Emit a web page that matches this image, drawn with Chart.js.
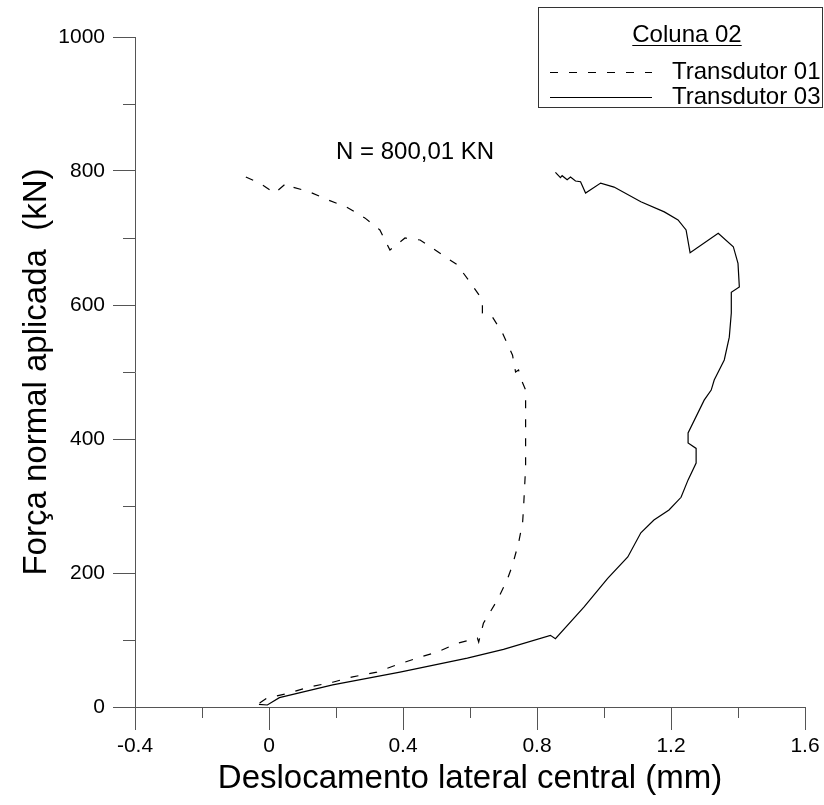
<!DOCTYPE html>
<html>
<head>
<meta charset="utf-8">
<script src="https://cdn.jsdelivr.net/npm/chart.js@4.4.1/dist/chart.umd.min.js"></script>
<style>
  html, body { margin: 0; padding: 0; background: #fff; }
  #wrap { width: 824px; height: 805px; }
</style>
</head>
<body>
<div id="wrap"><canvas id="coluna" width="824" height="805"></canvas></div>
<script>
const t01X = [-0.028, -0.007, 0.061, 0.121, 0.19, 0.25, 0.322, 0.382, 0.442, 0.502, 0.562, 0.622, 0.626, 0.64,
  0.682, 0.711, 0.727, 0.745, 0.757, 0.76, 0.766, 0.766, 0.766, 0.752, 0.745, 0.736, 0.727, 0.697, 0.667,
  0.637, 0.637, 0.631, 0.60, 0.562, 0.505, 0.451, 0.406, 0.361, 0.331, 0.286, 0.232, 0.175, 0.12, 0.07,
  0.052, 0.017, -0.028, -0.097];
const t01Y = [6, 13, 21, 30, 37, 45, 52, 63, 73, 82, 95, 103, 97, 125,
  160, 190, 212, 245, 275, 299, 358, 438, 473, 490, 503, 500, 525, 558, 582,
  588, 600, 612, 634, 660, 679, 697, 700, 682, 712, 730, 746, 757, 769, 776,
  782, 767, 782, 797];

// Transdutor 03 (solid)
const t03X = [-0.03, -0.005, 0.031, 0.19, 0.391, 0.592, 0.70, 0.84, 0.855, 0.94, 1.011, 1.071, 1.11, 1.149,
  1.194, 1.23, 1.251, 1.275, 1.275, 1.251, 1.251, 1.299, 1.32, 1.329, 1.359, 1.374, 1.38, 1.38, 1.404,
  1.40, 1.386, 1.341, 1.257, 1.245, 1.221, 1.18, 1.11, 1.03, 0.99, 0.945, 0.93, 0.915, 0.90, 0.89, 0.875,
  0.87, 0.855];
const t03Y = [4, 3, 14, 33, 52, 73, 86, 107, 102, 149, 192, 224, 260, 279,
  294, 313, 339, 364, 386, 394, 409, 458, 473, 488, 518, 552, 588, 619, 627,
  662, 687, 707, 678, 712, 727, 739, 754, 776, 782, 767, 784, 785, 791, 787, 793,
  790, 798];

const seriesNames = ['Transdutor 01', 'Transdutor 03'];
const legendTitle = 'Coluna 02';
const noteText = 'N = 800,01 KN';
const noteAt = [0.436, 828];

const xTicks = [-0.4, 0, 0.4, 0.8, 1.2, 1.6];
const xMinor = [-0.2, 0.2, 0.6, 1.0, 1.4];
const yTicks = [0, 200, 400, 600, 800, 1000];
const yMinor = [100, 300, 500, 700, 900];

const axisColor = '#555';
const fontFamily = "'Liberation Sans', Arial, sans-serif";

const toPoints = (xs, ys) => xs.map((x, i) => ({ x: x, y: ys[i] }));

// short ticks between the labelled ones
const minorTicks = {
  id: 'minorTicks',
  afterDraw(chart) {
    const { ctx, scales: { x, y } } = chart;
    ctx.save();
    ctx.strokeStyle = axisColor;
    ctx.lineWidth = 1;
    ctx.beginPath();
    xMinor.forEach(v => {
      const px = Math.round(x.getPixelForValue(v)) + 0.5;
      ctx.moveTo(px, x.top);
      ctx.lineTo(px, x.top + 11);
    });
    yMinor.forEach(v => {
      const py = Math.round(y.getPixelForValue(v)) + 0.5;
      ctx.moveTo(y.right, py);
      ctx.lineTo(y.right - 12, py);
    });
    ctx.stroke();
    ctx.restore();
  }
};

// boxed legend with underlined title, and the load note
const boxLegend = {
  id: 'boxLegend',
  afterDraw(chart) {
    const { ctx, scales: { x, y } } = chart;
    const sets = chart.data.datasets;
    ctx.save();
    ctx.fillStyle = '#000';
    ctx.font = '24px ' + fontFamily;
    ctx.textBaseline = 'middle';
    ctx.textAlign = 'center';
    ctx.fillText(noteText, x.getPixelForValue(noteAt[0]), y.getPixelForValue(noteAt[1]));

    ctx.strokeStyle = '#333';
    ctx.lineWidth = 1;
    ctx.strokeRect(538.5, 7.5, 284, 100);

    ctx.fillText(legendTitle, 687, 35);
    const w = ctx.measureText(legendTitle).width;
    ctx.beginPath();
    ctx.moveTo(687 - w / 2, 45.5);
    ctx.lineTo(687 + w / 2, 45.5);
    ctx.strokeStyle = '#000';
    ctx.stroke();

    ctx.textAlign = 'left';
    const rows = [72, 97];
    sets.forEach((ds, i) => {
      ctx.beginPath();
      ctx.setLineDash(ds.borderDash || []);
      ctx.lineWidth = ds.borderWidth;
      ctx.strokeStyle = ds.borderColor;
      ctx.moveTo(550, rows[i] + 0.5);
      ctx.lineTo(652, rows[i] + 0.5);
      ctx.stroke();
      ctx.setLineDash([]);
      ctx.fillText(ds.label, 672, rows[i]);
    });
    ctx.restore();
  }
};

new Chart(document.getElementById('coluna'), {
  type: 'scatter',
  data: {
    datasets: [
      {
        label: seriesNames[0],
        data: toPoints(t01X, t01Y),
        showLine: true,
        borderColor: '#000',
        borderWidth: 1.2,
        borderDash: [8, 11],
        pointRadius: 0,
        tension: 0
      },
      {
        label: seriesNames[1],
        data: toPoints(t03X, t03Y),
        showLine: true,
        borderColor: '#000',
        borderWidth: 1.2,
        pointRadius: 0,
        tension: 0
      }
    ]
  },
  options: {
    responsive: false,
    animation: false,
    devicePixelRatio: 1,
    layout: { padding: { top: 37, right: 19, left: 0, bottom: 0 } },
    plugins: {
      legend: { display: false },
      tooltip: { enabled: false }
    },
    scales: {
      x: {
        type: 'linear',
        min: -0.4,
        max: 1.6,
        afterBuildTicks: s => { s.ticks = xTicks.map(v => ({ value: v })); },
        afterFit: s => { s.height = 98; },
        border: { color: axisColor, width: 1 },
        grid: { drawOnChartArea: false, tickLength: 23, tickColor: axisColor },
        ticks: {
          color: '#000',
          padding: 4,
          maxRotation: 0,
          font: { family: fontFamily, size: 21 },
          callback: v => String(Math.round(v * 10) / 10)
        },
        title: {
          display: true,
          text: 'Deslocamento lateral central (mm)',
          color: '#000',
          font: { family: fontFamily, size: 33 },
          padding: { top: 0, bottom: 6 }
        }
      },
      y: {
        type: 'linear',
        min: 0,
        max: 1000,
        afterBuildTicks: s => { s.ticks = yTicks.map(v => ({ value: v })); },
        afterFit: s => { s.width = 135; },
        border: { color: axisColor, width: 1 },
        grid: { drawOnChartArea: false, tickLength: 22, tickColor: axisColor },
        ticks: {
          color: '#000',
          padding: 8,
          font: { family: fontFamily, size: 21 },
          callback: v => String(v)
        },
        title: {
          display: true,
          text: 'Força normal aplicada  (kN)',
          color: '#000',
          font: { family: fontFamily, size: 33 },
          padding: { top: 17, bottom: 0 }
        }
      }
    }
  },
  plugins: [minorTicks, boxLegend]
});
</script>
</body>
</html>
